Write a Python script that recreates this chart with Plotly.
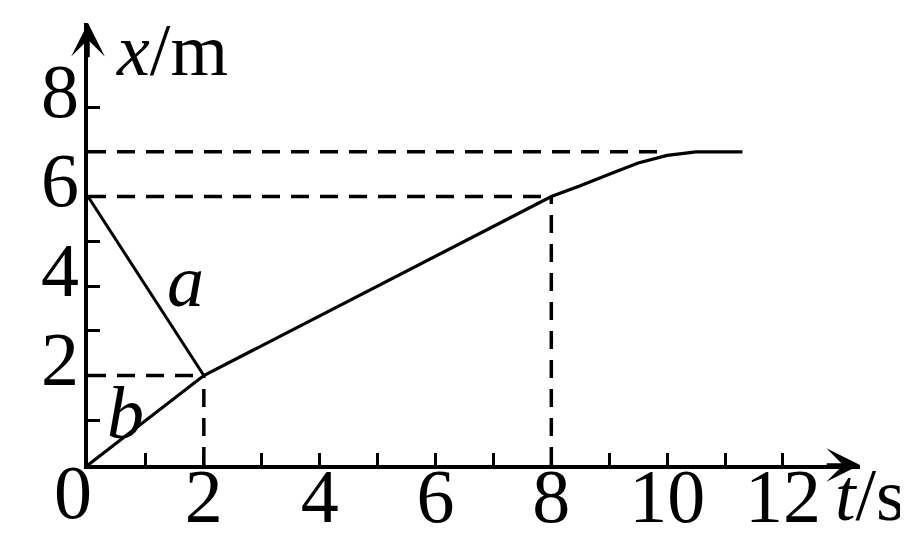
import plotly.graph_objects as go

# data
T_A = [0, 2]
X_A = [6, 2]
T_B = [0, 2, 8, 8.5, 9, 9.5, 10, 10.5, 11.3]
X_B = [0, 2, 6, 6.24, 6.5, 6.75, 6.92, 7, 7]

# dashed guide lines: (t0, x0, t1, x1)
GUIDES = [
    (0, 2, 2, 2), (2, 0, 2, 2),
    (0, 6, 8, 6), (8, 0, 8, 6),
    (0, 7, 10, 7),
]

T_TICKS = list(range(1, 13))
T_LABELS = [str(v) if v % 2 == 0 else '' for v in T_TICKS]
X_TICKS = list(range(1, 9))
X_LABELS = [str(v) if v % 2 == 0 else '' for v in X_TICKS]

T_MAX = 13.33
X_MAX = 9.88

FONT = 'Liberation Serif'
BLACK = 'black'
TICK_SIZE = 76

fig = go.Figure()

for t0, x0, t1, x1 in GUIDES:
    fig.add_trace(go.Scatter(
        x=[t0, t1], y=[x0, x1], mode='lines',
        line=dict(color=BLACK, width=3.5, dash='18px,11px'),
        showlegend=False, hoverinfo='skip'
    ))

fig.add_trace(go.Scatter(x=T_A, y=X_A, mode='lines',
                         line=dict(color=BLACK, width=3), showlegend=False))
fig.add_trace(go.Scatter(x=T_B, y=X_B, mode='lines',
                         line=dict(color=BLACK, width=3.2), showlegend=False))

AXIS_COMMON = dict(
    showgrid=False, zeroline=False, showline=True, linecolor=BLACK, linewidth=3.5,
    ticks='inside', ticklen=12, tickwidth=3, tickcolor=BLACK, automargin=False,
    tickfont=dict(family=FONT, size=TICK_SIZE, color=BLACK), fixedrange=True,
)

# page body adds ~8px margin, so the figure is a bit smaller than the window
fig.update_layout(
    width=900, height=542,
    paper_bgcolor='white', plot_bgcolor='white',
    margin=dict(l=80, r=48, t=15, b=85),
    xaxis=dict(range=[0, T_MAX], tickmode='array', tickvals=T_TICKS, ticktext=T_LABELS,
               ticklabelstandoff=-38, **AXIS_COMMON),
    yaxis=dict(range=[0, X_MAX], tickmode='array', tickvals=X_TICKS, ticktext=X_LABELS,
               ticklabelstandoff=-10, ticklabelshift=-17, **AXIS_COMMON),
)

# axis arrows
fig.add_annotation(x=T_MAX, y=0, ax=T_MAX - 0.6, ay=0, xref='x', yref='y', axref='x', ayref='y',
                   text='', showarrow=True, arrowhead=3, arrowsize=1.6, arrowwidth=3.5,
                   arrowcolor=BLACK)
fig.add_annotation(x=0, y=X_MAX, ax=0, ay=X_MAX - 0.8, xref='x', yref='y', axref='x', ayref='y',
                   text='', showarrow=True, arrowhead=3, arrowsize=1.6, arrowwidth=3.5,
                   arrowcolor=BLACK)

TEXT_FONT = dict(family=FONT, size=74, color=BLACK)
LABELS = [
    ('<i>x</i>/m', 0.109, 0.939),
    ('<i>t</i>/s', 1.013, -0.068),
    ('<i>a</i>', 0.126, 0.416),
    ('<i>b</i>', 0.048, 0.118),
]
for text, xp, yp in LABELS:
    fig.add_annotation(x=xp, y=yp, xref='paper', yref='paper', text=text,
                       xanchor='center', yanchor='middle', showarrow=False, font=TEXT_FONT)
fig.add_annotation(x=-0.019, y=-0.062, xref='paper', yref='paper', text='0', showarrow=False,
                   xanchor='center', yanchor='middle',
                   font=dict(family=FONT, size=TICK_SIZE, color=BLACK))

fig.write_html("out.html")
